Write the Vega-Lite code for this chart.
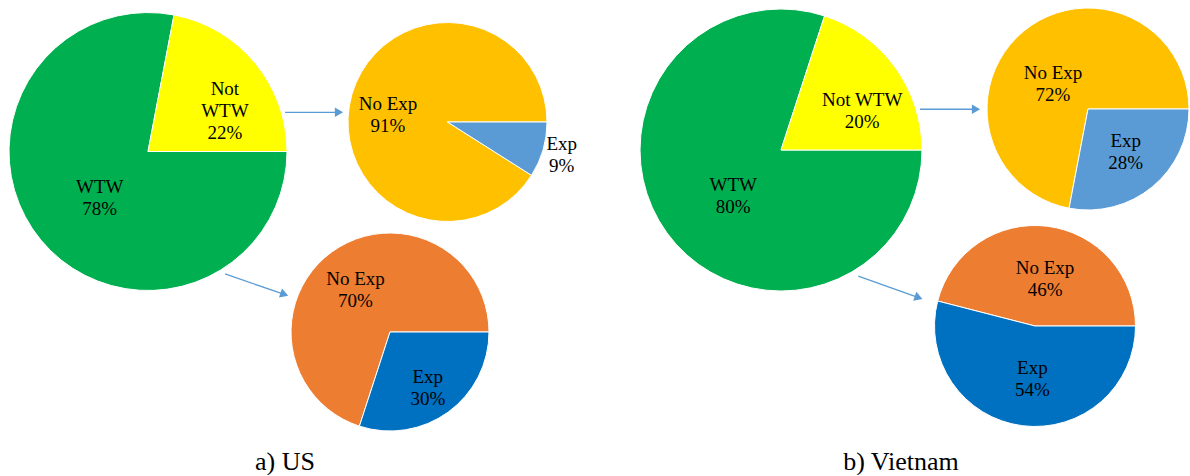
{
  "$schema": "https://vega.github.io/schema/vega-lite/v6.json",
  "padding": 0,
  "background": "white",
  "columns": 4,
  "spacing": {"row": 0, "column": 30},
  "align": "each",
  "bounds": "flush",
  "resolve": {"scale": {"color": "independent", "theta": "independent", "x": "independent", "y": "independent"}},
  "config": {
    "font": "'Liberation Serif', 'Times New Roman', 'DejaVu Serif', serif",
    "view": {"stroke": null},
    "text": {"font": "'Liberation Serif', 'Times New Roman', 'DejaVu Serif', serif", "fontSize": 19, "lineHeight": 22, "lineBreak": "\n", "color": "black", "align": "center", "baseline": "middle"}
  },
  "datasets": {
    "pies": [
      {"country": "US", "chart": "all", "category": "WTW", "label": "WTW", "pct": 78},
      {"country": "US", "chart": "all", "category": "Not WTW", "label": "Not\nWTW", "pct": 22},
      {"country": "US", "chart": "notwtw", "category": "No Exp", "label": "No Exp", "pct": 91},
      {"country": "US", "chart": "notwtw", "category": "Exp", "label": "Exp", "pct": 9},
      {"country": "US", "chart": "wtw", "category": "No Exp", "label": "No Exp", "pct": 70},
      {"country": "US", "chart": "wtw", "category": "Exp", "label": "Exp", "pct": 30},
      {"country": "Vietnam", "chart": "all", "category": "WTW", "label": "WTW", "pct": 80},
      {"country": "Vietnam", "chart": "all", "category": "Not WTW", "label": "Not WTW", "pct": 20},
      {"country": "Vietnam", "chart": "notwtw", "category": "No Exp", "label": "No Exp", "pct": 72},
      {"country": "Vietnam", "chart": "notwtw", "category": "Exp", "label": "Exp", "pct": 28},
      {"country": "Vietnam", "chart": "wtw", "category": "No Exp", "label": "No Exp", "pct": 46},
      {"country": "Vietnam", "chart": "wtw", "category": "Exp", "label": "Exp", "pct": 54}
    ],
    "captions": [
      {"country": "US", "caption": "a) US"},
      {"country": "Vietnam", "caption": "b) Vietnam"}
    ]
  },
  "concat": [
    {
      "width": 296, "height": 303,
      "data": {"name": "pies"},
      "transform": [
        {"filter": "datum.country === 'US' && datum.chart === 'all'"},
        {"stack": "pct", "groupby": ["chart"], "sort": [{"field": "category", "order": "descending"}], "as": ["t0", "t1"]},
        {"calculate": "(datum.t0 + datum.t1) / 2", "as": "tm"},
        {"calculate": "datum.label + '\\n' + datum.pct + '%'", "as": "txt"}
      ],
      "layer": [
        {
          "mark": {"type": "arc", "radius": 139, "stroke": "white", "strokeWidth": 1},
          "encoding": {
            "theta": {"field": "t0", "type": "quantitative", "stack": null, "scale": {"domain": [0, 100], "range": [1.5707963, 7.8539816]}},
            "theta2": {"field": "t1"},
            "color": {"field": "category", "type": "nominal", "scale": {"domain": ["WTW", "Not WTW"], "range": ["#00B050", "#FFFF00"]}, "legend": null}
          }
        },
        {
          "transform": [{"filter": "datum.category === 'Not WTW'"}],
          "mark": {"type": "text", "radius": 86.8, "dx": 10, "dy": -7},
          "encoding": {"theta": {"field": "tm", "type": "quantitative", "stack": null}, "text": {"field": "txt"}}
        },
        {
          "transform": [{"filter": "datum.category === 'WTW'"}],
          "mark": {"type": "text", "radius": 66.5, "dx": 3, "dy": -7},
          "encoding": {"theta": {"field": "tm", "type": "quantitative", "stack": null}, "text": {"field": "txt"}}
        },
        {
          "transform": [{"filter": "datum.category === 'Not WTW'"}],
          "mark": {"type": "rule", "color": "#5B9BD5", "strokeWidth": 1.3},
          "encoding": {
            "x": {"datum": 0.986, "type": "quantitative", "scale": {"domain": [-1.06475, 1.06475], "nice": false, "zero": false}, "axis": null},
            "y": {"datum": 0.282, "type": "quantitative", "scale": {"domain": [-1.08993, 1.08993], "nice": false, "zero": false}, "axis": null},
            "x2": {"datum": 1.353},
            "y2": {"datum": 0.282}
          }
        },
        {
          "transform": [{"filter": "datum.category === 'Not WTW'"}],
          "mark": {"type": "point", "shape": "triangle-right", "filled": true, "size": 90, "color": "#5B9BD5", "opacity": 1, "angle": 0},
          "encoding": {
            "x": {"datum": 1.374, "type": "quantitative", "axis": null},
            "y": {"datum": 0.282, "type": "quantitative", "axis": null}
          }
        },
        {
          "transform": [{"filter": "datum.category === 'WTW'"}],
          "mark": {"type": "rule", "color": "#5B9BD5", "strokeWidth": 1.3},
          "encoding": {
            "x": {"datum": 0.554, "type": "quantitative", "axis": null},
            "y": {"datum": -0.881, "type": "quantitative", "axis": null},
            "x2": {"datum": 0.96},
            "y2": {"datum": -1.021}
          }
        },
        {
          "transform": [{"filter": "datum.category === 'WTW'"}],
          "mark": {"type": "point", "shape": "triangle-right", "filled": true, "size": 90, "color": "#5B9BD5", "opacity": 1, "angle": 18.7},
          "encoding": {
            "x": {"datum": 0.981, "type": "quantitative", "axis": null},
            "y": {"datum": -1.028, "type": "quantitative", "axis": null}
          }
        }
      ]
    },
    {
      "width": 243, "height": 244,
      "data": {"name": "pies"},
      "transform": [
        {"filter": "datum.country === 'US' && datum.chart === 'notwtw'"},
        {"stack": "pct", "groupby": ["chart"], "sort": [{"field": "category", "order": "ascending"}], "as": ["t0", "t1"]},
        {"calculate": "(datum.t0 + datum.t1) / 2", "as": "tm"},
        {"calculate": "datum.label + '\\n' + datum.pct + '%'", "as": "txt"}
      ],
      "layer": [
        {
          "mark": {"type": "arc", "radius": 99.5, "stroke": "white", "strokeWidth": 1},
          "encoding": {
            "theta": {"field": "t0", "type": "quantitative", "stack": null, "scale": {"domain": [0, 100], "range": [1.5707963, 7.8539816]}},
            "theta2": {"field": "t1"},
            "color": {"field": "category", "type": "nominal", "scale": {"domain": ["Exp", "No Exp"], "range": ["#5B9BD5", "#FFC000"]}, "legend": null}
          }
        },
        {
          "transform": [{"filter": "datum.category === 'No Exp'"}],
          "mark": {"type": "text", "radius": 59.9, "dx": -2, "dy": -1},
          "encoding": {"theta": {"field": "tm", "type": "quantitative", "stack": null}, "text": {"field": "txt"}}
        },
        {
          "transform": [{"filter": "datum.category === 'Exp'"}],
          "mark": {"type": "text", "radius": 119, "dx": 0, "dy": -11},
          "encoding": {"theta": {"field": "tm", "type": "quantitative", "stack": null}, "text": {"field": "txt"}}
        }
      ]
    },
    {
      "width": 364, "height": 300,
      "data": {"name": "pies"},
      "transform": [
        {"filter": "datum.country === 'Vietnam' && datum.chart === 'all'"},
        {"stack": "pct", "groupby": ["chart"], "sort": [{"field": "category", "order": "descending"}], "as": ["t0", "t1"]},
        {"calculate": "(datum.t0 + datum.t1) / 2", "as": "tm"},
        {"calculate": "datum.label + '\\n' + datum.pct + '%'", "as": "txt"}
      ],
      "layer": [
        {
          "mark": {"type": "arc", "radius": 141, "stroke": "white", "strokeWidth": 1},
          "encoding": {
            "theta": {"field": "t0", "type": "quantitative", "stack": null, "scale": {"domain": [0, 100], "range": [1.5707963, 7.8539816]}},
            "theta2": {"field": "t1"},
            "color": {"field": "category", "type": "nominal", "scale": {"domain": ["WTW", "Not WTW"], "range": ["#00B050", "#FFFF00"]}, "legend": null}
          }
        },
        {
          "transform": [{"filter": "datum.category === 'Not WTW'"}],
          "mark": {"type": "text", "radius": 90.5, "dx": 8, "dy": 3},
          "encoding": {"theta": {"field": "tm", "type": "quantitative", "stack": null}, "text": {"field": "txt"}}
        },
        {
          "transform": [{"filter": "datum.category === 'WTW'"}],
          "mark": {"type": "text", "radius": 66.5, "dx": 6, "dy": -4},
          "encoding": {"theta": {"field": "tm", "type": "quantitative", "stack": null}, "text": {"field": "txt"}}
        },
        {
          "transform": [{"filter": "datum.category === 'Not WTW'"}],
          "mark": {"type": "rule", "color": "#5B9BD5", "strokeWidth": 1.3},
          "encoding": {
            "x": {"datum": 0.986, "type": "quantitative", "scale": {"domain": [-1.29078, 1.29078], "nice": false, "zero": false}, "axis": null},
            "y": {"datum": 0.289, "type": "quantitative", "scale": {"domain": [-1.06383, 1.06383], "nice": false, "zero": false}, "axis": null},
            "x2": {"datum": 1.362},
            "y2": {"datum": 0.289}
          }
        },
        {
          "transform": [{"filter": "datum.category === 'Not WTW'"}],
          "mark": {"type": "point", "shape": "triangle-right", "filled": true, "size": 90, "color": "#5B9BD5", "opacity": 1, "angle": 0},
          "encoding": {
            "x": {"datum": 1.383, "type": "quantitative", "axis": null},
            "y": {"datum": 0.289, "type": "quantitative", "axis": null}
          }
        },
        {
          "transform": [{"filter": "datum.category === 'WTW'"}],
          "mark": {"type": "rule", "color": "#5B9BD5", "strokeWidth": 1.3},
          "encoding": {
            "x": {"datum": 0.548, "type": "quantitative", "axis": null},
            "y": {"datum": -0.894, "type": "quantitative", "axis": null},
            "x2": {"datum": 0.956},
            "y2": {"datum": -1.04}
          }
        },
        {
          "transform": [{"filter": "datum.category === 'WTW'"}],
          "mark": {"type": "point", "shape": "triangle-right", "filled": true, "size": 90, "color": "#5B9BD5", "opacity": 1, "angle": 19.7},
          "encoding": {
            "x": {"datum": 0.976, "type": "quantitative", "axis": null},
            "y": {"datum": -1.047, "type": "quantitative", "axis": null}
          }
        }
      ]
    },
    {
      "width": 190, "height": 218,
      "data": {"name": "pies"},
      "transform": [
        {"filter": "datum.country === 'Vietnam' && datum.chart === 'notwtw'"},
        {"stack": "pct", "groupby": ["chart"], "sort": [{"field": "category", "order": "ascending"}], "as": ["t0", "t1"]},
        {"calculate": "(datum.t0 + datum.t1) / 2", "as": "tm"},
        {"calculate": "datum.label + '\\n' + datum.pct + '%'", "as": "txt"}
      ],
      "layer": [
        {
          "mark": {"type": "arc", "radius": 101, "stroke": "white", "strokeWidth": 1},
          "encoding": {
            "theta": {"field": "t0", "type": "quantitative", "stack": null, "scale": {"domain": [0, 100], "range": [1.5707963, 7.8539816]}},
            "theta2": {"field": "t1"},
            "color": {"field": "category", "type": "nominal", "scale": {"domain": ["Exp", "No Exp"], "range": ["#5B9BD5", "#FFC000"]}, "legend": null}
          }
        },
        {
          "transform": [{"filter": "datum.category === 'No Exp'"}],
          "mark": {"type": "text", "radius": 43.2, "dx": -7.5, "dy": -3},
          "encoding": {"theta": {"field": "tm", "type": "quantitative", "stack": null}, "text": {"field": "txt"}}
        },
        {
          "transform": [{"filter": "datum.category === 'Exp'"}],
          "mark": {"type": "text", "radius": 57.6, "dx": 1, "dy": -12},
          "encoding": {"theta": {"field": "tm", "type": "quantitative", "stack": null}, "text": {"field": "txt"}}
        }
      ]
    },
    {
      "width": 296, "height": 58,
      "data": {"name": "captions"},
      "transform": [{"filter": "datum.country === 'US'"}],
      "mark": {"type": "text", "fontSize": 26, "baseline": "alphabetic", "dx": 137, "dy": 138},
      "encoding": {"text": {"field": "caption"}}
    },
    {
      "width": 128, "height": 58,
      "data": {"name": "pies"},
      "transform": [
        {"filter": "datum.country === 'US' && datum.chart === 'wtw'"},
        {"stack": "pct", "groupby": ["chart"], "sort": [{"field": "category", "order": "ascending"}], "as": ["t0", "t1"]},
        {"calculate": "(datum.t0 + datum.t1) / 2", "as": "tm"},
        {"calculate": "datum.label + '\\n' + datum.pct + '%'", "as": "txt"}
      ],
      "layer": [
        {
          "mark": {"type": "arc", "radius": 99, "stroke": "white", "strokeWidth": 1},
          "encoding": {
            "theta": {"field": "t0", "type": "quantitative", "stack": null, "scale": {"domain": [0, 100], "range": [1.5707963, 7.8539816]}},
            "theta2": {"field": "t1"},
            "color": {"field": "category", "type": "nominal", "scale": {"domain": ["Exp", "No Exp"], "range": ["#0070C0", "#ED7D31"]}, "legend": null}
          }
        },
        {
          "transform": [{"filter": "datum.category === 'No Exp'"}],
          "mark": {"type": "text", "radius": 54.4, "dx": -2.5, "dy": -9},
          "encoding": {"theta": {"field": "tm", "type": "quantitative", "stack": null}, "text": {"field": "txt"}}
        },
        {
          "transform": [{"filter": "datum.category === 'Exp'"}],
          "mark": {"type": "text", "radius": 67.7, "dx": -2, "dy": -10},
          "encoding": {"theta": {"field": "tm", "type": "quantitative", "stack": null}, "text": {"field": "txt"}}
        }
      ]
    },
    {
      "width": 364, "height": 58,
      "data": {"name": "captions"},
      "transform": [{"filter": "datum.country === 'Vietnam'"}],
      "mark": {"type": "text", "fontSize": 26, "baseline": "alphabetic", "dx": 120, "dy": 138},
      "encoding": {"text": {"field": "caption"}}
    },
    {
      "width": 84, "height": 46,
      "data": {"name": "pies"},
      "transform": [
        {"filter": "datum.country === 'Vietnam' && datum.chart === 'wtw'"},
        {"stack": "pct", "groupby": ["chart"], "sort": [{"field": "category", "order": "ascending"}], "as": ["t0", "t1"]},
        {"calculate": "(datum.t0 + datum.t1) / 2", "as": "tm"},
        {"calculate": "datum.label + '\\n' + datum.pct + '%'", "as": "txt"}
      ],
      "layer": [
        {
          "mark": {"type": "arc", "radius": 100.5, "stroke": "white", "strokeWidth": 1},
          "encoding": {
            "theta": {"field": "t0", "type": "quantitative", "stack": null, "scale": {"domain": [0, 100], "range": [1.5707963, 7.8539816]}},
            "theta2": {"field": "t1"},
            "color": {"field": "category", "type": "nominal", "scale": {"domain": ["Exp", "No Exp"], "range": ["#0070C0", "#ED7D31"]}, "legend": null}
          }
        },
        {
          "transform": [{"filter": "datum.category === 'No Exp'"}],
          "mark": {"type": "text", "radius": 48.5, "dx": 4, "dy": -10},
          "encoding": {"theta": {"field": "tm", "type": "quantitative", "stack": null}, "text": {"field": "txt"}}
        },
        {
          "transform": [{"filter": "datum.category === 'Exp'"}],
          "mark": {"type": "text", "radius": 53, "dx": 4, "dy": -11},
          "encoding": {"theta": {"field": "tm", "type": "quantitative", "stack": null}, "text": {"field": "txt"}}
        }
      ]
    }
  ]
}
